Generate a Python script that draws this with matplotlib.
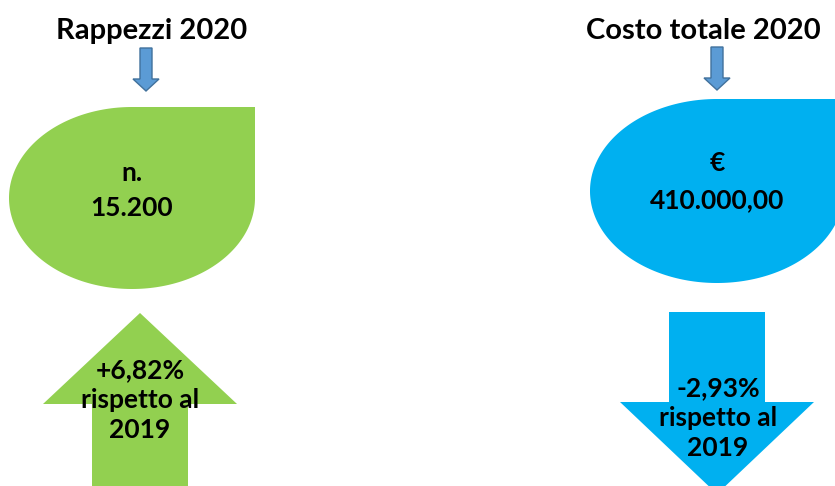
import numpy as np
import matplotlib.pyplot as plt
from matplotlib.patches import Polygon

plt.rcParams['font.family'] = ['Lato', 'DejaVu Sans']

titles = ['Rappezzi 2020', 'Costo totale 2020']
values_top = ['n.', '€']
values = ['15.200', '410.000,00']
changes = ['+6,82%', '-2,93%']
change_note = ['rispetto al', '2019']
colors = ['#92D050', '#00B0F0']

fig = plt.figure(figsize=(8.35, 4.86), dpi=100)
ax = fig.add_axes([0, 0, 1, 1])
ax.set_xlim(0, 835)
ax.set_ylim(486, 0)
ax.axis('off')

TS = 21    # title size
BS = 19    # body text size
W = 'bold'


def teardrop(cx, cy, rx, ry, color):
    t = np.linspace(0, 1.5 * np.pi, 200)
    pts = np.column_stack([cx + rx * np.cos(t), cy + ry * np.sin(t)])
    pts = np.vstack([pts, [cx + rx, cy - ry]])
    ax.add_patch(Polygon(pts, closed=True, fc=color, ec='none'))


def small_arrow(cx, top, head, tip):
    pts = [(cx - 6, top), (cx + 6, top), (cx + 6, head), (cx + 13, head),
           (cx, tip), (cx - 13, head), (cx - 6, head)]
    ax.add_patch(Polygon(pts, closed=True, fc='#5B9BD5', ec='#41719C', lw=1))


def big_arrow(cx, tip, base, end, color):
    # tip/base/end in y; works for up and down
    pts = [(cx, tip), (cx + 97, base), (cx + 48, base), (cx + 48, end),
           (cx - 48, end), (cx - 48, base), (cx - 97, base)]
    ax.add_patch(Polygon(pts, closed=True, fc=color, ec='none'))


# left block
ax.text(152, 31, titles[0], ha='center', va='center', fontsize=TS, fontweight=W)
small_arrow(146, 48, 79, 91)
teardrop(132, 198, 123, 91, colors[0])
ax.text(132, 173, values_top[0], ha='center', va='center', fontsize=BS, fontweight=W)
ax.text(132, 208, values[0], ha='center', va='center', fontsize=BS, fontweight=W)
big_arrow(140, 313, 404, 490, colors[0])
ax.text(140, 370, changes[0], ha='center', va='center', fontsize=BS, fontweight=W)
ax.text(140, 400, change_note[0], ha='center', va='center', fontsize=BS, fontweight=W)
ax.text(140, 430, change_note[1], ha='center', va='center', fontsize=BS, fontweight=W)

# right block
ax.text(703, 31, titles[1], ha='center', va='center', fontsize=TS, fontweight=W)
small_arrow(717, 47, 78, 90)
teardrop(717, 191, 127, 92, colors[1])
ax.text(717, 163, values_top[1], ha='center', va='center', fontsize=BS, fontweight=W)
ax.text(717, 200, values[1], ha='center', va='center', fontsize=BS, fontweight=W)
big_arrow(717, 494, 402, 312, colors[1])
ax.text(718, 388, changes[1], ha='center', va='center', fontsize=BS, fontweight=W)
ax.text(718, 418, change_note[0], ha='center', va='center', fontsize=BS, fontweight=W)
ax.text(718, 448, change_note[1], ha='center', va='center', fontsize=BS, fontweight=W)

fig.savefig('out.png', dpi=100)
